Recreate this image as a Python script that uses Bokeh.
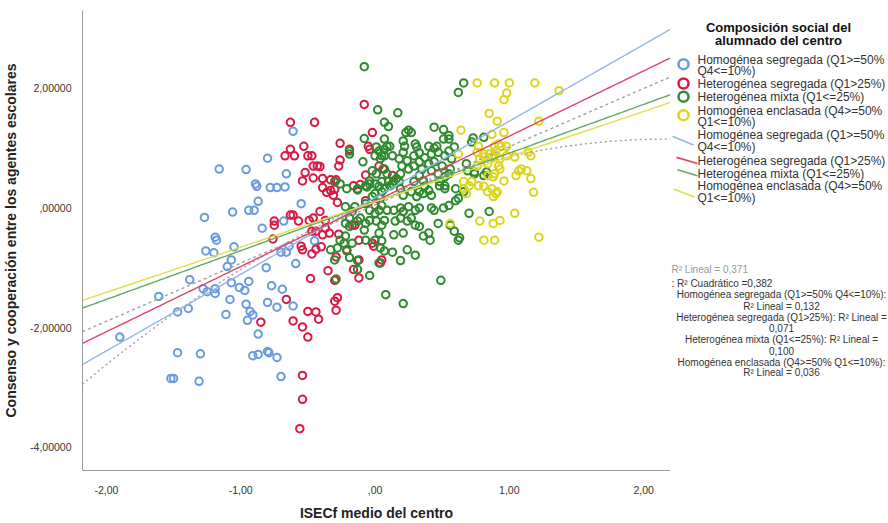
import numpy as np
from bokeh.plotting import figure
from bokeh.models import FixedTicker, Range1d
from bokeh.layouts import row
from bokeh.embed import file_html
from bokeh.resources import INLINE
from bokeh.core.properties import value

# ---------------- data ----------------
groups = ["Homogénea segregada (Q1>=50% Q4<=10%)",
          "Heterogénea segregada (Q1>25%)",
          "Heterogénea mixta (Q1<=25%)",
          "Homogénea enclasada (Q4>=50% Q1<=10%)"]

blue_x = [-0.61, -0.80, -1.16, -0.96, -0.66, -0.89, -0.88, -0.78, -0.73, -0.67, -0.87, -0.55, -1.06, -0.94, -0.90,
          -1.27, -0.84, -0.68, -1.19, -1.18, -1.26, -1.20, -1.05, -1.07, -1.10, -0.70, -0.66, -0.64, -0.45, -0.59,
          -0.81, -1.38, -1.28, -1.25, -1.19, -1.19, -1.07, -1.01, -0.97, -0.94, -0.77, -0.69, -1.61, -1.47, -1.39,
          -1.08, -1.11, -0.96, -0.93, -0.91, -0.95, -0.80, -0.73, -0.61, -0.87, -1.47, -1.30, -0.91, -0.87, -0.80,
          -0.79, -0.73, -1.52, -1.50, -1.31, -0.70, -1.90]
blue_y = [1.28, 0.83, 0.65, 0.64, 0.57, 0.40, 0.36, 0.34, 0.34, 0.35, 0.11, 0.07, -0.07, -0.04, -0.04,
          -0.16, -0.34, -0.22, -0.49, -0.54, -0.72, -0.75, -0.65, -0.87, -0.98, -0.74, -0.74, -0.64, -0.55, -0.93,
          -1.00, -1.20, -1.35, -1.40, -1.43, -1.35, -1.25, -1.33, -1.38, -1.23, -1.30, -1.36, -1.48, -1.74, -1.68,
          -1.53, -1.78, -1.61, -1.73, -1.79, -1.88, -1.58, -1.66, -1.64, -2.11, -2.42, -2.44, -2.47, -2.45, -2.40,
          -2.42, -2.50, -2.85, -2.85, -2.90, -2.82, -2.16]

red_x = [-0.63, -0.45, -0.63, -0.67, -0.60, -0.53, -0.50, -0.47, -0.26, -0.46, -0.43, -0.41, -0.27, -0.26, -0.52,
         -0.54, -0.46, -0.39, -0.33, -0.29, -0.39, -0.36, -0.33, -0.30, -0.31, -0.28, -0.41, -0.63, -0.61, -0.75,
         -0.75, -0.57, -0.49, -0.46, -0.37, -0.76, -0.47, -0.44, -0.39, -0.37, -0.34, -0.27, -0.55, -0.54, -0.47,
         -0.44, -0.40, -0.29, -0.35, -0.48, -0.30, -0.28, -0.30, -0.29, -0.66, -0.50, -0.44, -0.42, -0.61, -0.85,
         -0.54, -0.50, -0.54, -0.54, -0.56, -0.08, -0.02, -0.19, -0.05, -0.04, -0.07, 0.03, 0.06, 0.13, -0.11,
         -0.16, -0.17, -0.15, -0.07, 0.00, -0.12, -0.02, -0.01, -0.21, -0.12, 0.05, 0.04, -0.16, -0.12, 0.21,
         -0.30]
red_y = [1.43, 1.43, 0.98, 0.87, 0.87, 1.03, 0.87, 0.87, 1.08, 0.70, 0.70, 0.69, 0.70, 0.80, 0.59,
         0.45, 0.50, 0.49, 0.47, 0.47, 0.34, 0.26, 0.29, 0.31, 0.21, 0.09, -0.06, -0.12, -0.12, -0.22,
         -0.29, -0.22, -0.21, -0.17, -0.21, -0.52, -0.39, -0.39, -0.45, -0.34, -0.42, -0.44, -0.64, -0.70, -0.77,
         -0.69, -0.65, -0.82, -1.05, -1.18, -1.21, -1.50, -1.56, -1.71, -1.53, -1.73, -1.74, -1.86, -1.89, -1.91,
         -1.99, -2.16, -2.80, -3.20, -3.69, 1.73, 1.26, 0.98, 1.03, 0.98, 0.55, 0.70, 0.65, 0.54, 0.39,
         0.37, -0.29, -0.29, 0.12, 0.04, -0.54, -0.59, -0.64, -0.70, -0.87, -0.87, -0.92, -1.03, -1.17, -0.06,
         0.44]

green_x = [-0.08, 0.66, 0.62, 0.02, 0.17, 0.07, 0.10, -0.08, 0.25, 0.27, 0.23, 0.44, 0.51, 0.55, 0.55,
           0.51, 0.73, 0.72, 0.81, 0.07, 0.09, 0.11, 0.07, 0.05, 0.07, 0.13, 0.01, 0.21, 0.22, 0.21,
           0.30, 0.31, 0.29, 0.33, 0.40, 0.44, 0.46, 0.47, 0.42, 0.37, 0.52, 0.55, 0.57, 0.59, -0.09,
           0.00, 0.03, 0.04, -0.02, 0.01, 0.07, 0.09, 0.18, 0.20, 0.24, 0.25, 0.19, 0.29, 0.33, 0.35,
           0.40, 0.42, 0.44, 0.47, 0.52, 0.55, 0.56, 0.50, 0.68, 0.69, 0.74, 0.10, 0.13, 0.18, 0.16,
           0.29, 0.33, 0.36, 0.37, 0.48, 0.52, -0.04, 0.03, -0.30, -0.26, -0.21, -0.13, -0.07, -0.04, 0.00,
           0.05, 0.07, 0.11, 0.14, 0.00, 0.05, 0.04, -0.02, 0.19, 0.21, 0.27, 0.33, 0.31, 0.36, 0.42,
           0.40, 0.48, 0.52, 0.60, 0.62, 0.66, -0.22, -0.15, -0.07, -0.04, 0.00, 0.03, 0.05, 0.09, 0.14,
           0.19, 0.21, 0.25, 0.30, 0.33, 0.42, 0.44, 0.51, 0.55, 0.60, 0.70, 0.85, -0.22, -0.19, -0.13,
           -0.11, -0.07, -0.04, 0.01, 0.05, 0.07, -0.08, 0.03, 0.15, 0.19, 0.24, 0.27, 0.30, 0.33, 0.47,
           0.56, 0.59, 0.62, 0.63, 0.14, 0.21, 0.36, 0.40, 0.41, -0.22, -0.23, -0.17, -0.28, -0.21, -0.30,
           -0.19, -0.13, -0.07, 0.00, 0.05, 0.04, 0.07, 0.13, 0.19, 0.24, 0.30, 0.03, -0.04, -0.13, -0.29,
           0.49, 0.08, 0.21, -0.33, -0.26, -0.19, -0.19, -0.13, -0.06, -0.17, -0.19, 0.74, 0.81, 0.83]
green_y = [2.36, 2.09, 1.93, 1.64, 1.59, 1.43, 1.36, 1.16, 1.30, 1.26, 1.26, 1.35, 1.31, 1.21, 1.15,
           1.15, 1.17, 1.10, 1.18, 1.15, 1.03, 1.03, 0.98, 0.87, 0.87, 0.87, 1.02, 1.12, 1.03, 0.93,
           1.07, 1.02, 0.87, 0.92, 1.03, 1.00, 1.03, 0.93, 0.90, 0.84, 0.87, 0.95, 0.82, 1.02, 0.77,
           0.87, 0.95, 0.82, 0.62, 0.57, 0.65, 0.57, 0.82, 0.70, 0.79, 0.65, 0.57, 0.70, 0.77, 0.65,
           0.74, 0.62, 0.77, 0.57, 0.52, 0.57, 0.65, 0.70, 0.74, 0.62, 0.60, 0.44, 0.40, 0.44, 0.49,
           0.44, 0.54, 0.45, 0.36, 0.44, 0.37, 0.40, 0.36, 0.44, 0.40, 0.32, 0.32, 0.37, 0.45, 0.40,
           0.44, 0.32, 0.37, 0.45, 0.24, 0.27, 0.16, 0.19, 0.32, 0.21, 0.27, 0.27, 0.19, 0.24, 0.21,
           0.29, 0.37, 0.32, 0.32, 0.16, 0.27, 0.02, 0.02, 0.07, -0.04, -0.09, -0.04, 0.04, -0.04, -0.04,
           0.00, -0.06, 0.02, -0.04, 0.00, 0.00, -0.04, 0.00, 0.04, 0.12, -0.09, -0.06, -0.26, -0.31, -0.22,
           -0.17, -0.26, -0.21, -0.22, -0.29, -0.21, -0.37, -0.42, -0.22, -0.17, -0.22, -0.17, -0.29, -0.31, -0.26,
           -0.29, -0.39, -0.54, -0.50, -0.45, -0.42, -0.47, -0.42, -0.54, -0.47, -0.59, -0.59, -0.67, -0.72, -0.87,
           -0.83, -0.88, -0.54, -0.54, -0.55, -0.67, -0.72, -0.74, -0.88, -0.70, -0.79, -0.92, -1.13, -1.03, -1.19,
           -1.21, -1.45, -1.60, -0.70, -0.54, 0.90, 0.95, 0.30, 0.35, -0.06, -0.17, 0.57, 0.54, 0.60]

yellow_x = [0.76, 0.89, 1.00, 1.19, 1.37, 0.98, 0.96, 0.85, 0.91, 1.22, 0.64, 0.87, 0.96, 0.89, 0.92,
            0.94, 0.98, 0.90, 0.85, 0.81, 0.77, 0.76, 0.62, 0.78, 0.81, 0.87, 0.89, 0.93, 0.98, 1.04,
            1.14, 1.16, 0.76, 0.84, 0.92, 0.93, 0.89, 0.84, 0.88, 1.07, 1.09, 1.13, 1.05, 1.16, 0.96,
            0.72, 0.77, 0.81, 0.84, 0.88, 0.91, 0.66, 0.68, 1.18, 1.04, 0.78, 0.88, 0.93, 0.56, 1.22,
            0.81, 0.89, 0.70, 0.87, 0.90, 0.66]
yellow_y = [2.09, 2.09, 2.09, 2.09, 1.96, 1.92, 1.81, 1.58, 1.45, 1.45, 1.30, 1.23, 1.26, 1.03, 1.07,
            1.03, 1.03, 0.95, 0.90, 0.90, 1.03, 0.93, 0.90, 0.82, 0.85, 0.85, 0.87, 0.82, 0.87, 0.85,
            0.93, 0.87, 0.70, 0.74, 0.70, 0.65, 0.57, 0.54, 0.52, 0.62, 0.65, 0.62, 0.54, 0.49, 0.45,
            0.44, 0.37, 0.36, 0.27, 0.19, 0.27, 0.32, 0.24, 0.26, -0.09, -0.22, -0.26, -0.21, -0.26, -0.49,
            -0.54, -0.54, 0.37, 0.32, 0.24, 0.44]

# linear fits per group: intercept, slope
fit_intercept = [0.17, 0.11, 0.10, 0.10]
fit_slope = [1.28, 1.09, 0.815, 0.756]
# total fits
total_linear = [0.05, 0.973]
total_quad = [0.13, 0.941, -0.217]

x_ticks = [-2, -1, 0, 1, 2]
x_tick_labels = ["-2,00", "-1,00", ",00", "1,00", "2,00"]
y_ticks = [-4, -2, 0, 2]
y_tick_labels = ["-4,00000", "-2,00000", ",00000", "2,00000"]

legend_title = ["Composición social del", "alumnado del centro"]
legend_marker_lines = [["Homogénea segregada (Q1>=50%", "Q4<=10%)"],
                       ["Heterogénea segregada (Q1>25%)"],
                       ["Heterogénea mixta (Q1<=25%)"],
                       ["Homogénea enclasada (Q4>=50%", "Q1<=10%)"]]
r2_total = ["R² Lineal = 0,371", ": R² Cuadrático =0,382"]
r2_groups = ["Homogénea segregada (Q1>=50% Q4<=10%):", "R² Lineal = 0,132",
             "Heterogénea segregada (Q1>25%): R² Lineal =", "0,071",
             "Heterogénea mixta (Q1<=25%): R² Lineal =", "0,100",
             "Homogénea enclasada (Q4>=50% Q1<=10%):", "R² Lineal = 0,036"]

# ---------------- styles ----------------
FONT = "Liberation Sans"
marker_colors = ["#6A9BE0", "#D81B45", "#2F8A2F", "#DCD51C"]
line_colors = ["#92B6EA", "#E0446A", "#66A866", "#E4DE4A"]
gray = "#A0A0A0"

X0, X1 = -2.178, 2.2
Y0, Y1 = -4.39, 3.30

p = figure(width=670, height=523, x_range=Range1d(X0, X1), y_range=Range1d(Y0, Y1),
           output_backend="svg", toolbar_location=None,
           min_border_left=79, min_border_right=0, min_border_top=10, min_border_bottom=48)
p.outline_line_color = None
p.grid.visible = False

for ax, ticks, labels in ((p.xaxis[0], x_ticks, x_tick_labels), (p.yaxis[0], y_ticks, y_tick_labels)):
    ax.ticker = FixedTicker(ticks=ticks)
    ax.major_label_overrides = {t: l for t, l in zip(ticks, labels)}
    ax.major_tick_line_color = None
    ax.minor_tick_line_color = None
    ax.axis_line_color = "#9A9A9A"
    ax.major_label_text_font = FONT
    ax.major_label_text_font_size = "10.5px"
    ax.major_label_text_color = "#333333"
    ax.axis_label_text_font = FONT
    ax.axis_label_text_font_size = "14px"
    ax.axis_label_text_font_style = "bold"
    ax.axis_label_text_color = "#222222"
p.xaxis.axis_label = "ISECf medio del centro"
p.yaxis.axis_label = "Consenso y cooperación entre los agentes escolares"
p.xaxis.major_label_standoff = 9
p.xaxis.axis_label_standoff = 8
p.yaxis.major_label_standoff = 5
p.yaxis.axis_label_standoff = 8

xs_all = [blue_x, red_x, green_x, yellow_x]
ys_all = [blue_y, red_y, green_y, yellow_y]
for xs, ys, c in zip(xs_all, ys_all, marker_colors):
    p.scatter(xs, ys, marker="circle", size=7.5, fill_color=None, line_color=c, line_width=2)

xl = np.linspace(X0, X1, 200)
p.line(xl, total_linear[0] + total_linear[1] * xl, line_color=gray, line_width=1.4, line_dash="3 3")
p.line(xl, total_quad[0] + total_quad[1] * xl + total_quad[2] * xl ** 2, line_color=gray,
       line_width=1.4, line_dash="2 3")
for a, b, c in zip(fit_intercept, fit_slope, line_colors):
    p.line(xl, a + b * xl, line_color=c, line_width=1.4)

# ---------------- legend / annotation panel ----------------
s = figure(width=218, height=523, x_range=Range1d(0, 218), y_range=Range1d(523, 0),
           output_backend="svg", toolbar_location=None, min_border=0,
           x_axis_location=None, y_axis_location=None)
s.outline_line_color = None
s.grid.visible = False

s.text(x=[108, 108], y=[19, 34], text=legend_title, text_font=value(FONT), text_font_size="13px",
       text_font_style="bold", text_color="#111111", text_align="center", text_baseline="middle")

marker_rows = [[56, 69], [83], [98], [114, 127]]
marker_y = [61, 83, 98, 119]
line_rows = [[142, 155], [171], [186], [200, 213]]
line_stubs = [(2, 143, 23, 153), (6, 167, 27, 174), (7, 181, 27, 188), (3, 203, 24, 212)]

for i in range(4):
    s.scatter([13], [marker_y[i]], marker="circle", size=10, fill_color=None,
              line_color=marker_colors[i], line_width=2.5)
    s.text(x=[27] * len(legend_marker_lines[i]), y=marker_rows[i], text=legend_marker_lines[i],
           text_font=value(FONT), text_font_size="12px", text_color="#333333", text_baseline="middle")
    x0, y0, x1, y1 = line_stubs[i]
    s.segment(x0=[x0], y0=[y0], x1=[x1], y1=[y1], line_color=line_colors[i], line_width=1.6)
    s.text(x=[27] * len(legend_marker_lines[i]), y=line_rows[i], text=legend_marker_lines[i],
           text_font=value(FONT), text_font_size="12px", text_color="#333333", text_baseline="middle")

s.text(x=[1], y=[295], text=[r2_total[0]], text_font=value(FONT), text_font_size="10px",
       text_color="#999999", text_baseline="middle")
s.text(x=[1], y=[310], text=[r2_total[1]], text_font=value(FONT), text_font_size="10px",
       text_color="#333333", text_baseline="middle")
s.text(x=[111] * len(r2_groups), y=[323, 336, 349, 361, 374, 387, 400, 412], text=r2_groups,
       text_font=value(FONT), text_font_size="10px", text_color="#333333",
       text_align="center", text_baseline="middle")

layout = row(p, s)
open("out.html", "w").write(file_html(layout, INLINE))
